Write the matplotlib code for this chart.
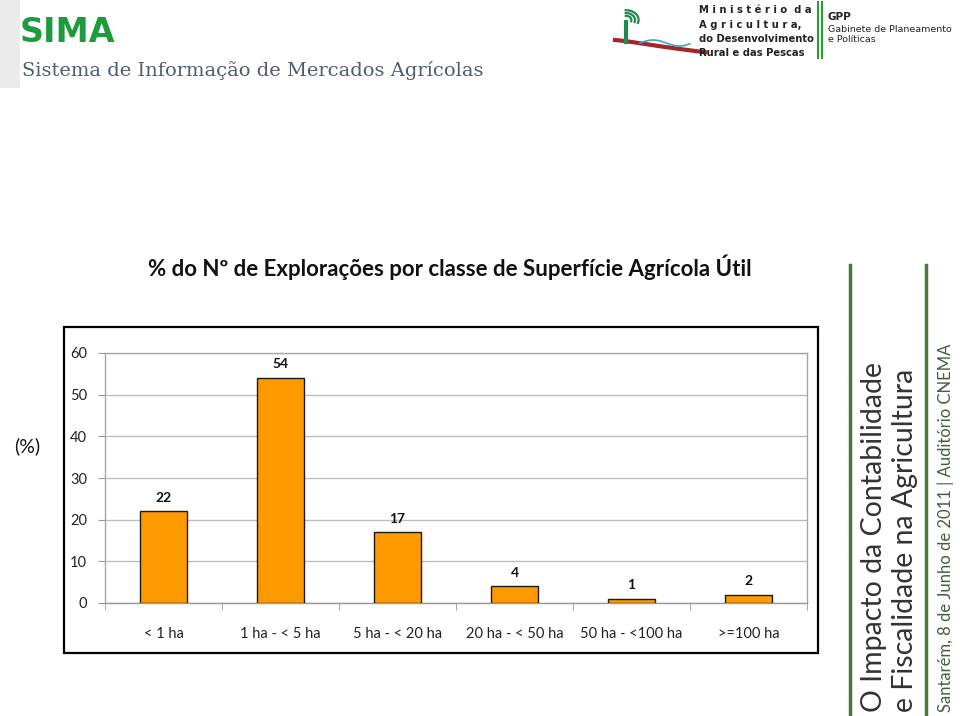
import matplotlib.pyplot as plt
import numpy as np
from matplotlib.patches import Rectangle
from matplotlib.lines import Line2D

# Data
categories = ['< 1 ha', '1 ha - < 5 ha', '5 ha - < 20 ha', '20 ha - < 50 ha', '50 ha - <100 ha', '>=100 ha']
values = [22, 54, 17, 4, 1, 2]
y_ticks = [0, 10, 20, 30, 40, 50, 60]

title = '% do Nº de Explorações por classe de Superfície Agrícola Útil'

W, H = 960, 716


def fx(px):
    return px / W


def fy(py):
    return 1 - py / H


plt.rcParams['font.family'] = ['Lato', 'DejaVu Sans']

fig = plt.figure(figsize=(9.6, 7.16), dpi=100)
fig.patch.set_facecolor('white')

# Chart box
fig.patches.append(Rectangle((fx(64), fy(653)), fx(818) - fx(64), fy(327) - fy(653),
                             transform=fig.transFigure, fill=False, edgecolor='black', lw=1.6))

ax = fig.add_axes([fx(105), fy(603), fx(807) - fx(105), fy(353) - fy(603)])
x = np.arange(len(categories))
ax.bar(x, values, width=0.41, color='#FF9900', edgecolor='#1a1a1a', linewidth=1.0, zorder=3)
for xi, v in zip(x, values):
    ax.text(xi, v + 1.8, str(v), ha='center', va='bottom', fontsize=10, fontweight='bold', color='#111111')

ax.set_xlim(-0.5, len(categories) - 0.5)
ax.set_ylim(0, 60)
ax.set_yticks(y_ticks)
ax.set_xticks(x)
ax.set_xticklabels(categories, fontsize=10.5, color='#222222')
ax.set_xticks(np.arange(len(categories) + 1) - 0.5, minor=True)
ax.tick_params(axis='x', which='major', length=0, pad=17)
ax.tick_params(axis='x', which='minor', length=5, color='#999999', direction='out')
ax.tick_params(axis='y', length=5, color='#999999', labelsize=10.5, labelcolor='#222222', pad=8)
ax.yaxis.grid(True, color='#bdbdbd', lw=1.0, zorder=0)
for s in ax.spines.values():
    s.set_color('#a6a6a6')
    s.set_linewidth(1.0)
ax.spines['bottom'].set_color('#999999')

fig.text(fx(450), fy(267), title, ha='center', va='center', fontsize=16, fontweight='bold', color='#111111')
fig.text(fx(27), fy(446), '(%)', ha='center', va='center', fontsize=14, color='#111111')

# SIMA header
fig.patches.append(Rectangle((0, fy(88)), fx(20), fy(0) - fy(88), transform=fig.transFigure,
                             facecolor='#ececec', edgecolor='none'))
fig.text(fx(20), fy(32), 'SIMA', ha='left', va='center', fontsize=24, fontweight='heavy',
         color='#1e9b3c', family='DejaVu Sans')
fig.text(fx(22), fy(71), 'Sistema de Informação de Mercados Agrícolas', ha='left', va='center',
         fontsize=14, color='#4e5d70', family='DejaVu Serif')

# Ministry logo
t = np.linspace(0, 1, 40)
fig.lines.append(Line2D(fx(615 + 90 * t), fy(40 + 12 * t ** 1.5 + 2 * np.sin(t * 3)), transform=fig.transFigure,
                        color='#a0282b', lw=3))
fig.lines.append(Line2D(fx(640 + 50 * t), fy(43 - 3 * np.sin(t * 6)), transform=fig.transFigure,
                        color='#3aa6c8', lw=1.2))
fig.lines.append(Line2D([fx(626), fx(626)], [fy(42), fy(22)], transform=fig.transFigure, color='#1e8a50', lw=3))
for r in [6, 10, 14]:
    a = np.linspace(-0.3, 1.6, 20)
    fig.lines.append(Line2D(fx(626 + r * np.cos(a) * 0.9), fy(20 - r * np.sin(a) * 0.7), transform=fig.transFigure,
                            color='#1e8a50', lw=1.6))
ministry = ['M i n i s t é r i o  d a', 'A g r i c u l t u r a,', 'do Desenvolvimento', 'Rural e das Pescas']
for i, line in enumerate(ministry):
    fig.text(fx(699), fy(10 + 14.5 * i), line, ha='left', va='center', fontsize=7.2, fontweight='bold',
             color='#222222', family='DejaVu Sans')
fig.lines.append(Line2D([fx(818), fx(818)], [fy(2), fy(58)], transform=fig.transFigure, color='#2e9b3a', lw=1.5))
fig.lines.append(Line2D([fx(822), fx(822)], [fy(2), fy(58)], transform=fig.transFigure, color='#2e9b3a', lw=1.5))
fig.text(fx(828), fy(17), 'GPP', ha='left', va='center', fontsize=7.5, fontweight='bold', color='#222222',
         family='DejaVu Sans')
fig.text(fx(828), fy(29), 'Gabinete de Planeamento', ha='left', va='center', fontsize=6.8, color='#222222',
         family='DejaVu Sans')
fig.text(fx(828), fy(40), 'e Políticas', ha='left', va='center', fontsize=6.8, color='#222222',
         family='DejaVu Sans')

# Right vertical banner
for px in [850, 926]:
    fig.lines.append(Line2D([fx(px), fx(px)], [fy(265), 0], transform=fig.transFigure, color='#4a7a3a', lw=2.5))
fig.text(fx(874), fy(712), 'O Impacto da Contabilidade', rotation=90, ha='center', va='bottom',
         fontsize=20.5, color='#333333')
fig.text(fx(905), fy(712), 'e Fiscalidade na Agricultura', rotation=90, ha='center', va='bottom',
         fontsize=20.5, color='#333333')
fig.text(fx(946), fy(712), 'Santarém, 8 de Junho de 2011 | Auditório CNEMA', rotation=90, ha='center',
         va='bottom', fontsize=12, color='#4a5a45')

fig.savefig('out.png', dpi=100)
